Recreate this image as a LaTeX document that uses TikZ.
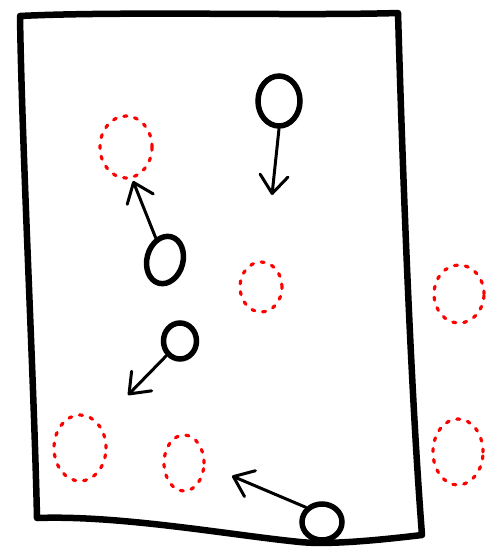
\documentclass[tikz,border=0pt]{standalone}
\usetikzlibrary{arrows.meta,shapes.geometric}
\begin{document}
\begin{tikzpicture}[x=1pt,y=-1pt,
  ball/.style={draw=black,line width=5.5pt,ellipse,inner sep=0pt},
  ghost/.style={draw=red,line width=3.2pt,ellipse,inner sep=0pt,dash pattern=on 3pt off 8pt,line cap=round},
  move/.style={line width=3pt,line cap=round,-{Straight Barb[length=18pt,width=28pt,line cap=round,line join=round]}},
  wall/.style={line width=6.5pt,line cap=round,line join=round}]
\useasboundingbox (0,0) rectangle (485,551);
% box
\draw[wall] (20,16) .. controls (120,11) and (300,16) .. (398,13)
  .. controls (402,150) and (410,380) .. (422,535)
  .. controls (380,540) and (330,545) .. (300,542)
  .. controls (230,535) and (120,515) .. (37,518)
  .. controls (34,380) and (22,150) .. (20,16) -- cycle;
% black balls
\node[ball,minimum width=42pt,minimum height=50pt] (b1) at (279,101) {};
\node[ball,minimum width=36pt,minimum height=48pt,rotate=-15] (b2) at (165,260) {};
\node[ball,minimum width=33pt,minimum height=36pt] (b3) at (180,341) {};
\node[ball,minimum width=40pt,minimum height=36pt] (b4) at (322,522) {};
% red ghosts
\node[ghost,minimum width=52pt,minimum height=62pt] (g1) at (126,147) {};
\node[ghost,minimum width=42pt,minimum height=50pt] (g2) at (261,287) {};
\node[ghost,minimum width=50pt,minimum height=58pt] (g3) at (459,294) {};
\node[ghost,minimum width=52pt,minimum height=66pt] (g4) at (80,448) {};
\node[ghost,minimum width=40pt,minimum height=56pt] (g5) at (184,463) {};
\node[ghost,minimum width=50pt,minimum height=66pt] (g6) at (458,452) {};
% arrow tips
\coordinate (t1) at (272,195);
\coordinate (t2) at (133,181);
\coordinate (t3) at (128,395);
\coordinate (t4) at (232,476);
\draw[move] (b1.south) -- (t1);
\draw[move] (b2.north west) -- (t2);
\draw[move] (b3.south west) -- (t3);
\draw[move] (b4.north west) -- (t4);
\end{tikzpicture}
\end{document}
